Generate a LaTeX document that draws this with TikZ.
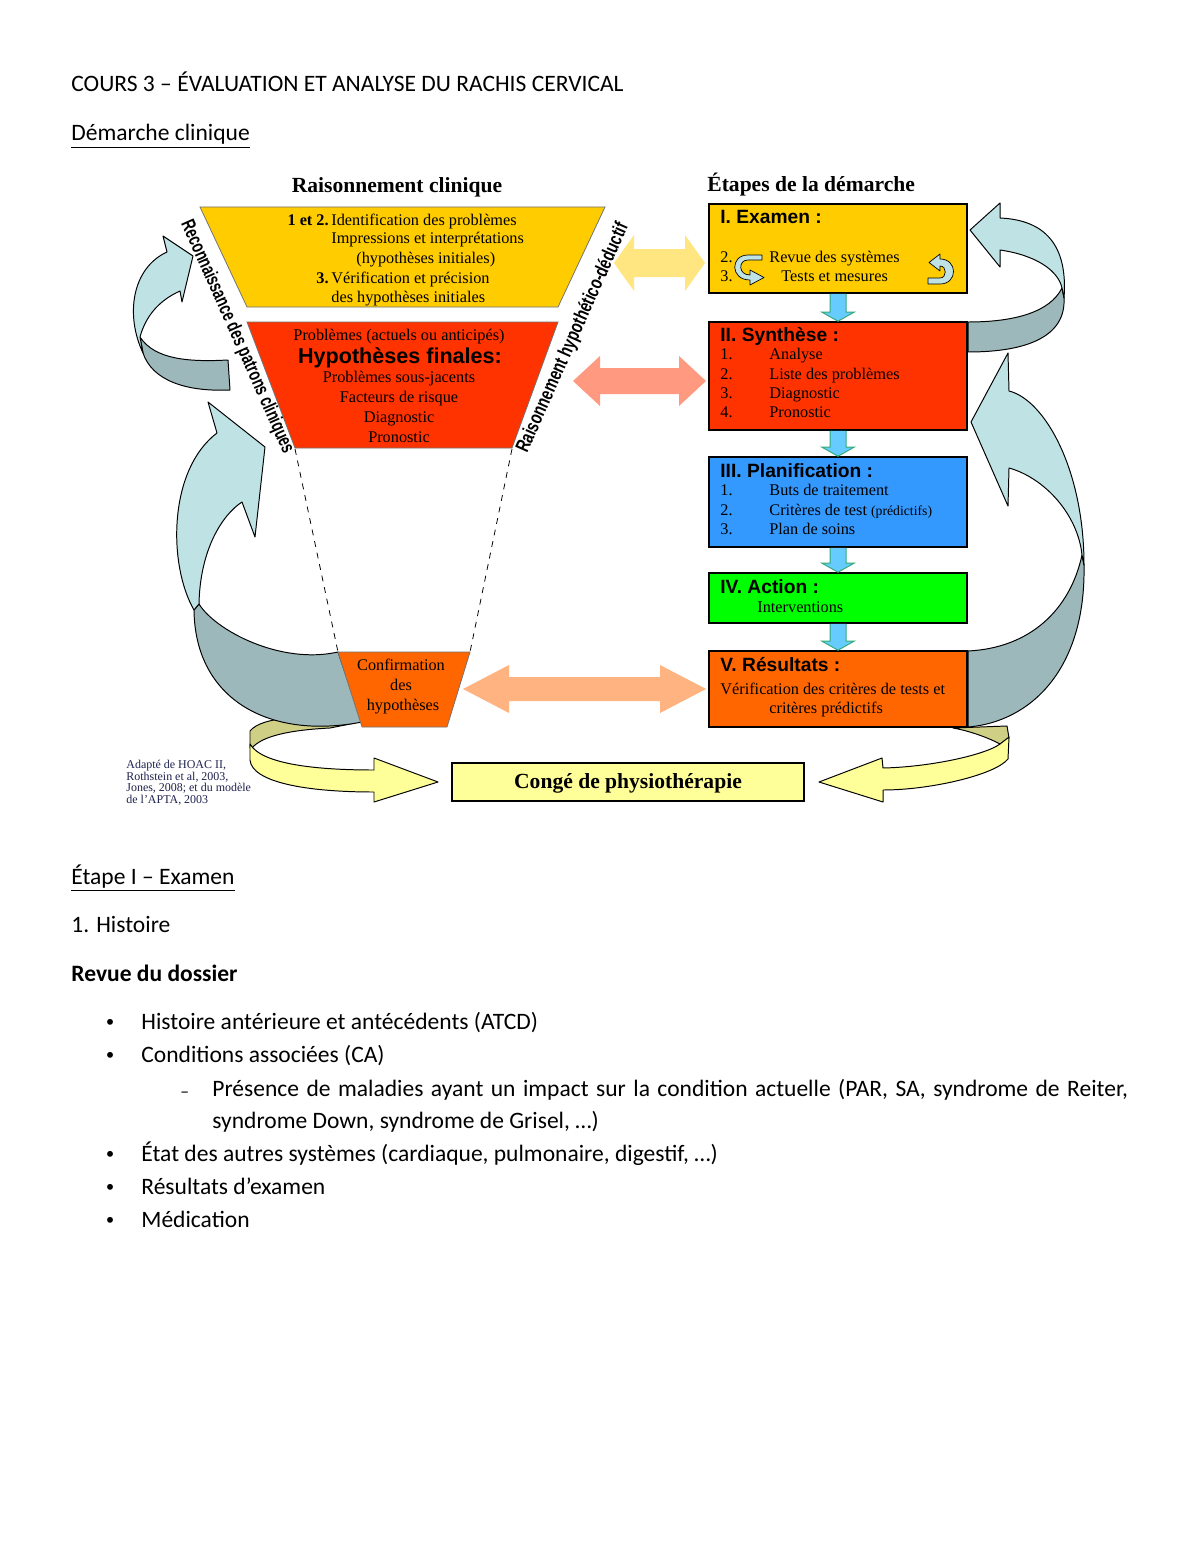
\documentclass[tikz,border=0pt]{standalone}
\usepackage{fontspec}
\usepackage{graphicx}
\setmainfont{Carlito}
\newfontfamily\tms{Liberation Serif}
\newfontfamily\arl{Liberation Sans}
\usetikzlibrary{calc}
\definecolor{cGold}{HTML}{FFCC00}
\definecolor{cRed}{HTML}{FF3300}
\definecolor{cBlue}{HTML}{3399FF}
\definecolor{cGreen}{HTML}{00FF00}
\definecolor{cOrange}{HTML}{FF6600}
\definecolor{cConge}{HTML}{FFFF99}
\definecolor{cLight}{HTML}{BFE2E5}
\definecolor{cDark}{HTML}{9CB8BA}
\definecolor{cOlive}{HTML}{CFCF85}
\definecolor{cRib}{HTML}{FFFF99}
\definecolor{cYA}{HTML}{FFE680}
\definecolor{cSA}{HTML}{FF9A80}
\definecolor{cPA}{HTML}{FFB380}
\definecolor{cCyan}{HTML}{66CCFF}
\definecolor{cCyanE}{HTML}{33AA77}
\definecolor{cNavy}{HTML}{20224F}
\newcommand\dblarrow[6]{%
  \fill[#1] (#2) -- ($(#2)+(#4,-#5)$) -- ($(#2)+(#4,-#6)$) -- ($(#3)+(-#4,-#6)$) -- ($(#3)+(-#4,-#5)$) -- (#3) -- ($(#3)+(-#4,#5)$) -- ($(#3)+(-#4,#6)$) -- ($(#2)+(#4,#6)$) -- ($(#2)+(#4,#5)$) -- cycle;}
\newcommand\dnarrow[2]{%
  \draw[dnar] ($(#1.south)+(-8,0)$) -- ($(#2.north)+(-8,-9)$) -- ($(#2.north)+(-16,-9)$) -- (#2.north) -- ($(#2.north)+(16,-9)$) -- ($(#2.north)+(8,-9)$) -- ($(#1.south)+(8,0)$);}
\begin{document}
\begin{tikzpicture}[x=0.51pt,y=-0.51pt,
  body/.style={inner sep=0pt, anchor=base west, font=\fontsize{12}{14.4}\selectfont},
  bul/.style={inner sep=0pt, anchor=base west, font=\arl\fontsize{11}{12}\selectfont},
  dsh/.style={inner sep=0pt, anchor=base west, font=\fontsize{9}{10}\selectfont},
  tx/.style={inner sep=0pt, anchor=base west, font=\tms\fontsize{8.3}{10}\selectfont},
  txc/.style={tx, anchor=base},
  ttl/.style={inner sep=0pt, anchor=base west, font=\arl\bfseries\fontsize{9.8}{11}\selectfont},
  headt/.style={inner sep=0pt, font=\tms\bfseries\fontsize{11}{13}\selectfont},
  cite/.style={inner sep=0pt, anchor=base west, text=cNavy, font=\tms\fontsize{6.1}{6.1}\selectfont},
  stepbox/.style={draw=black, line width=0.8pt, inner sep=0pt},
  trap/.style={draw=black!55, line width=0.4pt},
  rib/.style={draw=black, line width=0.5pt, line join=round},
  dnar/.style={fill=cCyan, draw=cCyanE, line width=0.5pt},
  rottxt/.style={inner sep=0pt, font=\arl\bfseries\fontsize{10}{12}\selectfont},
]
\fill[white] (0,0) rectangle (1200,1553);
\useasboundingbox (0,0) rectangle (1200,1553);

% ---------- header text ----------
\node[body] (t1) at (71,92) {COURS 3 – ÉVALUATION ET ANALYSE DU RACHIS CERVICAL};
\node[body] (t2) at (71,141) {\underline{Démarche clinique}};

% ---------- headings ----------
\node[headt, anchor=base] (h1) at (397,193) {Raisonnement clinique};
\node[headt, anchor=base west] (h2) at (707,192) {Étapes de la démarche};

% ---------- yellow ribbons (back) ----------
\draw[rib, fill=cOlive] (250,748) -- (250,731) .. controls (262,716) and (310,714) .. (355,723) -- (330,728) .. controls (290,730) and (262,736) .. (252,748) -- cycle;
\draw[rib, fill=cRib] (250,744) .. controls (262,765) and (320,770) .. (374,770) -- (374,758) -- (438,782) -- (374,802) -- (374,792) .. controls (305,792) and (252,782) .. (250,760) -- cycle;
\draw[rib, fill=cOlive] (953,728) -- (1007,726) -- (1009,738) -- (1000,744) .. controls (985,736) and (965,730) .. (953,728) -- cycle;
\draw[rib, fill=cRib] (1009,737) -- (1008,759) .. controls (995,775) and (930,790) .. (883,790) -- (883,802) -- (819,782) -- (882,758) -- (883,768) .. controls (930,767) and (985,755) .. (1000,744) -- cycle;

% ---------- big curved arrows ----------
% upper left
\draw[rib, fill=cDark] (140,337) .. controls (155,360) and (190,362) .. (228,360) -- (230,390) .. controls (185,392) and (152,380) .. (143,353) -- cycle;
\draw[rib, fill=cLight] (163,236) -- (193,256) -- (182,302) -- (180,291) .. controls (160,300) and (146,315) .. (140,337) -- (143,353) .. controls (125,315) and (132,268) .. (167,252) -- cycle;
% lower left
\draw[rib, fill=cDark] (199,604) .. controls (215,630) and (280,665) .. (338,652) -- (362,722) .. controls (270,740) and (195,700) .. (194,610) -- cycle;
\draw[rib, fill=cLight] (208,402) -- (265,447) -- (255,537) -- (242,502) .. controls (222,515) and (200,550) .. (199,604) -- (194,610) .. controls (168,565) and (168,470) .. (217,433) -- cycle;
% upper right
\draw[rib, fill=cDark] (1062,288) .. controls (1050,312) and (1015,322) .. (968,322) -- (968,352) .. controls (1030,352) and (1066,335) .. (1064,298) -- cycle;
\draw[rib, fill=cLight] (1000,203) -- (970,230) -- (1000,267) -- (1000,250) .. controls (1035,255) and (1058,270) .. (1062,288) -- (1064,298) .. controls (1068,245) and (1045,220) .. (1000,218) -- cycle;
% lower right
\draw[rib, fill=cDark] (1082,555) .. controls (1070,610) and (1030,648) .. (968,651) -- (968,727) .. controls (1030,722) and (1086,670) .. (1084,565) -- cycle;
\draw[rib, fill=cLight] (1008,353) -- (971,422) -- (1008,506) -- (1009,468) .. controls (1045,478) and (1078,515) .. (1082,555) -- (1084,565) .. controls (1084,470) and (1045,400) .. (1009,391) -- cycle;

% ---------- funnel ----------
\draw[trap, fill=cGold] (200,207) -- (605,207) -- (558,307) -- (247,307) -- cycle;
\draw[trap, fill=cRed] (247,322) -- (558,322) -- (512,448) -- (295,448) -- cycle;
\coordinate (rbl) at (295,449);
\coordinate (rbr) at (512,449);
\coordinate (ctl) at (338,652);
\coordinate (ctr) at (470,652);
\draw[dashed, line width=0.4pt] (rbl) -- (ctl);
\draw[dashed, line width=0.4pt] (rbr) -- (ctr);
\draw[trap, fill=cOrange] (ctl) -- (ctr) -- (447,727) -- (362,727) -- cycle;

% yellow trapezoid text
\node[tx] (y1) at (331,225) {\llap{\textbf{1 et 2.}\,}Identification des problèmes};
\node[tx] (y2) at (331,244) {Impressions et interprétations};
\node[tx] (y3) at (356,264) {(hypothèses initiales)};
\node[tx] (y4) at (331,283) {\llap{\textbf{3.}\,}Vérification et précision};
\node[tx] (y5) at (331,302) {des hypothèses initiales};
% red trapezoid text
\node[txc] (r1) at (399,340) {Problèmes (actuels ou anticipés)};
\node[inner sep=0pt, anchor=base, font=\arl\bfseries\fontsize{11}{13}\selectfont] (r2) at (400,363) {Hypothèses finales:};
\node[txc] (r3) at (399,382) {Problèmes sous-jacents};
\node[txc] (r4) at (399,402) {Facteurs de risque};
\node[txc] (r5) at (399,422) {Diagnostic};
\node[txc] (r6) at (399,442) {Pronostic};
% confirmation text
\node[txc] (c1) at (401,670) {Confirmation};
\node[txc] (c2) at (401,690) {des};
\node[txc] (c3) at (403,710) {hypothèses};

% rotated labels
\node[rottxt, rotate=-66] (rec) at (237,337) {\resizebox{129pt}{\height}{Reconnaissance des patrons cliniques}};
\node[rottxt, rotate=66] (hyp) at (573,338) {\resizebox{127pt}{\height}{Raisonnement hypothético-déductif}};

% ---------- right column boxes ----------
\node[stepbox, fill=cGold, minimum width=258*0.51pt, minimum height=89*0.51pt] (exam) at (838,248.5) {};
\node[stepbox, fill=cRed, minimum width=258*0.51pt, minimum height=108*0.51pt] (synth) at (838,376) {};
\node[stepbox, fill=cBlue, minimum width=258*0.51pt, minimum height=90*0.51pt] (plan) at (838,502) {};
\node[stepbox, fill=cGreen, minimum width=258*0.51pt, minimum height=50*0.51pt] (act) at (838,598) {};
\node[stepbox, fill=cOrange, minimum width=258*0.51pt, minimum height=76*0.51pt] (res) at (838,689) {};

\dnarrow{exam}{synth}
\dnarrow{synth}{plan}
\dnarrow{plan}{act}
\dnarrow{act}{res}

% small loop arrows inside Examen
\draw[rib, line width=0.35pt, fill=cLight] (762,255) -- (748,255) .. controls (730,255) and (730,280) .. (750,280) -- (750,285) -- (764,277.5) -- (750,270) -- (750,275) .. controls (738,275) and (738,260) .. (748,260) -- (762,260) -- cycle;
\draw[rib, line width=0.35pt, fill=cLight] (928,278) -- (940,278) .. controls (947,278) and (947,266) .. (940,266) -- (940,271) -- (929,262.5) -- (940,254) -- (940,259) .. controls (958,259) and (958,284) .. (940,284) -- (928,284) -- cycle;

% Examen text
\node[ttl] (e0) at (720,224) {I. Examen :};
\node[tx] (e1) at (720,262) {2.};
\node[tx] (e2) at (769,262) {Revue des systèmes};
\node[tx] (e3) at (720,281) {3.};
\node[tx] (e4) at (781,281) {Tests et mesures};
% Synthese text
\node[ttl] (s0) at (720,341) {II. Synthèse :};
\node[tx] (s1) at (720,359) {1.};
\node[tx] (s1b) at (769,359) {Analyse};
\node[tx] (s2) at (720,379) {2.};
\node[tx] (s2b) at (769,379) {Liste des problèmes};
\node[tx] (s3) at (720,398) {3.};
\node[tx] (s3b) at (769,398) {Diagnostic};
\node[tx] (s4) at (720,417) {4.};
\node[tx] (s4b) at (769,417) {Pronostic};
% Planification text
\node[ttl] (p0) at (720,477) {III. Planification :};
\node[tx] (p1) at (720,495) {1.};
\node[tx] (p1b) at (769,495) {Buts de traitement};
\node[tx] (p2) at (720,515) {2.};
\node[tx] (p2b) at (769,515) {Critères de test {\fontsize{7}{8}\selectfont (prédictifs)}};
\node[tx] (p3) at (720,534) {3.};
\node[tx] (p3b) at (769,534) {Plan de soins};
% Action text
\node[ttl] (a0) at (720,593) {IV. Action :};
\node[tx] (a1) at (757,612) {Interventions};
% Resultats text
\node[ttl] (v0) at (720,671) {V. Résultats :};
\node[tx] (v1) at (720,694) {Vérification des critères de tests et};
\node[tx] (v2) at (769,713) {critères prédictifs};

% ---------- double arrows ----------
\coordinate (ya) at (614,263);
\coordinate (yb) at (705,263);
\dblarrow{cYA}{ya}{yb}{20}{28}{14}
\coordinate (sa) at (573,381);
\coordinate (sb) at (706,381);
\dblarrow{cSA}{sa}{sb}{27}{25}{13}
\coordinate (pa) at (463,689);
\coordinate (pb) at (706,689);
\dblarrow{cPA}{pa}{pb}{46}{24}{12}

% ---------- Conge ----------
\node[stepbox, line width=0.9pt, fill=cConge, minimum width=352*0.51pt, minimum height=38*0.51pt] (conge) at (628,782) {};
\node[headt, anchor=base] (congeT) at (628,788) {Congé de physiothérapie};

% citation
\node[cite] (ci1) at (126,768) {Adapté de HOAC II,};
\node[cite] (ci2) at (126,780) {Rothstein et al, 2003,};
\node[cite] (ci3) at (126,791) {Jones, 2008; et du modèle};
\node[cite] (ci4) at (126,803) {de l’APTA, 2003};

% ---------- lower text ----------
\node[body] (b1) at (71,884) {\underline{Étape I – Examen}};
\node[body] (b2) at (71,932) {1. Histoire};
\node[body] (b3) at (71,981) {\bfseries Revue du dossier};
\node[bul] (d1) at (106,1029) {•};
\node[body] (l1) at (141,1029) {Histoire antérieure et antécédents (ATCD)};
\node[bul] (d2) at (106,1062) {•};
\node[body] (l2) at (141,1062) {Conditions associées (CA)};
\node[dsh] (d3) at (180,1097) {–};
\node[body] (l3) at (212,1096) {\makebox[467pt][s]{Présence de maladies ayant un impact sur la condition actuelle (PAR, SA, syndrome de Reiter,}};
\node[body] (l3b) at (212,1128) {syndrome Down, syndrome de Grisel, …)};
\node[bul] (d4) at (106,1161) {•};
\node[body] (l4) at (141,1161) {État des autres systèmes (cardiaque, pulmonaire, digestif, …)};
\node[bul] (d5) at (106,1194) {•};
\node[body] (l5) at (141,1194) {Résultats d’examen};
\node[bul] (d6) at (106,1227) {•};
\node[body] (l6) at (141,1227) {Médication};
\end{tikzpicture}
\end{document}
